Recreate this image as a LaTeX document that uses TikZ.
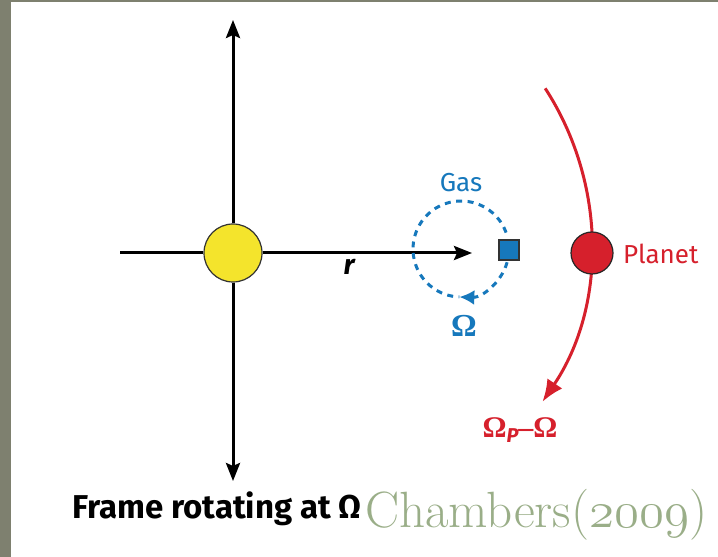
\documentclass[tikz,border=0pt]{standalone}
\usepackage{fontspec}
\setmainfont{Latin Modern Roman}
\newfontfamily\labfont{Fira Sans}
\newfontfamily\omfont{Liberation Serif}
\usetikzlibrary{arrows.meta,calc}
\definecolor{bordergray}{RGB}{126,128,111}
\definecolor{sunyellow}{RGB}{244,228,44}
\definecolor{gasblue}{RGB}{22,120,188}
\definecolor{planetred}{RGB}{214,32,44}
\definecolor{citegreen}{RGB}{154,174,136}
\newcommand{\oldnums}[1]{\scalebox{2.05}{\fontencoding{OML}\fontfamily{cmm}\fontseries{m}\fontshape{it}\fontsize{24.88}{28}\selectfont #1}}
\tikzset{
  axis/.style={line width=3pt,black},
  axtip/.style={-{Stealth[length=18pt,width=14pt,inset=3pt]}},
  sunnode/.style={circle,draw=black!80,line width=1.2pt,fill=sunyellow,minimum size=58pt,inner sep=0pt},
  planetnode/.style={circle,draw=black!85,line width=1.2pt,fill=planetred,minimum size=42pt,inner sep=0pt},
  gasnode/.style={rectangle,draw=black!80,line width=1.2pt,fill=gasblue,minimum size=20pt,inner sep=0pt},
  gasdash/.style={gasblue,line width=3pt,dash pattern=on 6pt off 5.5pt},
  orbitline/.style={planetred,line width=3pt},
  lab/.style={inner sep=0pt,font=\labfont\fontsize{26}{30}\selectfont}
}
\begin{document}
\begin{tikzpicture}[x=1pt,y=1pt]
\useasboundingbox (0,0) rectangle (718,557);
\fill[bordergray] (0,0) rectangle (718,557);
\fill[white] (11,0) rectangle (718,555);
% axes
\coordinate (vtop) at (233,537);
\coordinate (vbot) at (233,76);
\coordinate (hleft) at (120,304);
\coordinate (hright) at (472,304);
\node[sunnode] (sun) at (233,304) {};
\draw[axis,axtip] (sun.north) -- (vtop);
\draw[axis,axtip] (sun.south) -- (vbot);
\draw[axis] (hleft) -- (sun.west);
\draw[axis,axtip] (sun.east) -- (hright);
\node[inner sep=0pt,font=\labfont\bfseries\itshape\fontsize{28}{30}\selectfont] (rlab) at (349,290) {r};
% gas
\coordinate (gc) at (461,308);
\draw[gasdash] ($(gc)+(20:48)$) arc[start angle=20,end angle=268,radius=48];
\draw[gasdash,-{Latex[length=15pt,width=15pt]}] ($(gc)+(-16:48)$) arc[start angle=-16,end angle=-92,radius=48];
\node[gasnode] (gas) at (509,307) {};
\node[lab,text=gasblue] (gaslab) at (461,374) {Gas};
\node[inner sep=0pt,text=gasblue,font=\omfont\bfseries\fontsize{32}{36}\selectfont] (omlab) at (464,231) {Ω};
% planet
\coordinate (oc) at (307,314);
\coordinate (otop) at ($(oc)+(33:284)$);
\draw[orbitline,-{Latex[length=22pt,width=18pt]}] (otop) arc[start angle=33,end angle=-34,radius=284];
\node[planetnode] (planet) at (592,304) {};
\node[lab,text=planetred,anchor=west] (planetlab) at (623,303) {Planet};
\node[inner sep=0pt,text=planetred,font=\omfont\bfseries\fontsize{30}{34}\selectfont] (oplab) at (520,127) {Ω\raisebox{-5pt}{\labfont\itshape\fontsize{20}{22}\selectfont P}–Ω};
% captions
\node[inner sep=0pt,anchor=base west,font=\labfont\bfseries\fontsize{33}{36}\selectfont] (frame) at (72,38) {Frame rotating at Ω};
\node[inner sep=0pt,anchor=base west,text=citegreen,font=\fontsize{51}{56}\selectfont] (cite) at (365,29) {Chambers(\oldnums{2009})};
\end{tikzpicture}
\end{document}
